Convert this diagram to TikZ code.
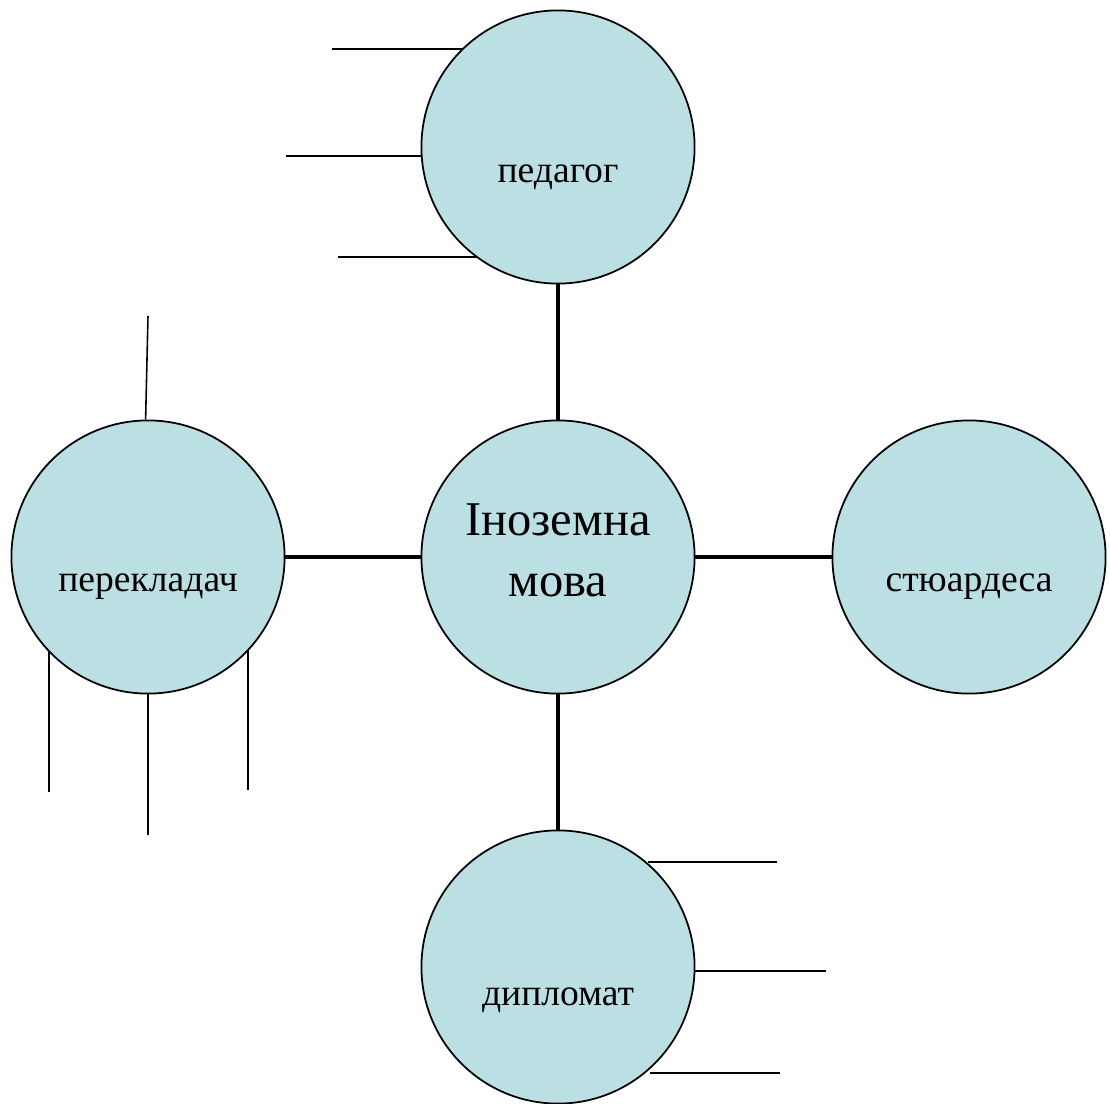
\documentclass[tikz,border=0pt]{standalone}
\usepackage{fontspec}
\setmainfont{Liberation Serif}
\usetikzlibrary{positioning}
\definecolor{light blue}{RGB}{186,224,228}
\tikzset{
  prof/.style={circle, draw=black, line width=0.5pt, fill=light blue, minimum size=2.73cm, inner sep=0pt},
  link/.style={line width=1.4pt},
  branch/.style={line width=0.45pt},
  word/.style={font=\fontsize{10.7}{13}\selectfont},
}
\begin{document}
\begin{tikzpicture}[x=0.01cm,y=-0.01cm]
			\useasboundingbox (0,0) rectangle (1110,1103);
			\node[prof] (ped) at (558,147) {};
			\node[prof] (mova) at (558,557) {};
			\node[prof] (perek) at (148,557) {};
			\node[prof] (stew) at (969,557) {};
			\node[prof] (dipl) at (558,967) {};
			\node[word] (pedtext) at (558,177) {педагог};
			\node[word] (perektext) at (148,587) {перекладач};
			\node[word] (stewtext) at (969,587) {стюардеса};
			\node[word] (dipltext) at (558,1000) {дипломат};
			\node[font=\fontsize{13.8}{17.4}\selectfont, align=center] (movatext) at (558,550) {Іноземна\\мова};
			\draw[link] (ped) -- (mova);
			\draw[link] (perek) -- (mova);
			\draw[link] (mova) -- (stew);
			\draw[link] (mova) -- (dipl);
			% free ends of the short lines
			\coordinate (p1) at (332,49);
			\coordinate (p2) at (286,156);
			\coordinate (p3) at (338,257);
			\coordinate (k1) at (148,316);
			\coordinate (k2) at (49,792);
			\coordinate (k3) at (148,835);
			\coordinate (k4) at (248,790);
			\coordinate (d1) at (777,862);
			\coordinate (d2) at (826,971);
			\coordinate (d3) at (780,1073);
			\draw[branch] (p1) -- (ped.134 |- p1);
			\draw[branch] (p2) -- (ped.184 |- p2);
			\draw[branch] (p3) -- (ped.234 |- p3);
			\draw[branch] (k1) -- (perek.91);
			\draw[branch] (k2) -- (perek.224 -| k2);
			\draw[branch] (k3) -- (perek.270 -| k3);
			\draw[branch] (k4) -- (perek.317 -| k4);
			\draw[branch] (d1) -- (dipl.49 |- d1);
			\draw[branch] (d2) -- (dipl.358 |- d2);
			\draw[branch] (d3) -- (dipl.312 |- d3);
		\end{tikzpicture}
\end{document}
